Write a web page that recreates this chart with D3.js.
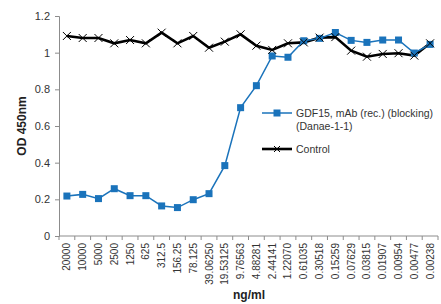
<!DOCTYPE html>
<html>
<head>
<meta charset="utf-8">
<script src="https://cdn.jsdelivr.net/npm/d3@7"></script>
<style>
body { margin: 0; background: #fff; }
</style>
</head>
<body>
<div id="chart"></div>
<script>
// Data
const concentrations = ["20000", "10000", "5000", "2500", "1250", "625", "312.5", "156.25", "78.125",
  "39.06250", "19.53125", "9.76563", "4.88281", "2.44141", "1.22070", "0.61035", "0.30518",
  "0.15259", "0.07629", "0.03815", "0.01907", "0.00954", "0.00477", "0.00238"];
const gdf15 = [0.218, 0.227, 0.204, 0.258, 0.22, 0.22, 0.164, 0.155, 0.198, 0.231, 0.384, 0.70,
  0.82, 0.982, 0.975, 1.065, 1.078, 1.11, 1.067, 1.056, 1.069, 1.069, 0.998, 1.045];
const control = [1.091, 1.08, 1.08, 1.051, 1.069, 1.051, 1.109, 1.051, 1.091, 1.027, 1.06, 1.10,
  1.038, 1.015, 1.051, 1.056, 1.082, 1.085, 1.011, 0.978, 0.993, 0.997, 0.984, 1.051];
const yTicks = [0, 0.2, 0.4, 0.6, 0.8, 1, 1.2];

const width = 441, height = 304;
const margin = {top: 16, right: 3, bottom: 68, left: 59};

const svg = d3.select("#chart")
  .append("svg")
  .attr("width", width)
  .attr("height", height)
  .style("font-family", "'Liberation Sans', Arial, sans-serif");

const x = d3.scalePoint()
  .domain(concentrations)
  .range([margin.left, width - margin.right])
  .padding(0.5);

const y = d3.scaleLinear()
  .domain([0, 1.2])
  .range([height - margin.bottom, margin.top]);

const axisColor = "#8c8c8c";

// Y axis
const yAxis = svg.append("g")
  .attr("transform", `translate(${margin.left},0)`)
  .call(d3.axisLeft(y).tickValues(yTicks).tickSize(4).tickPadding(5).tickFormat(d => d));
yAxis.select(".domain").attr("stroke", axisColor);
yAxis.selectAll(".tick line").attr("stroke", axisColor);
yAxis.selectAll("text").attr("fill", "#333").style("font-size", "11px");

// X axis - ticks between categories
const step = x.step();
const xAxis = svg.append("g")
  .attr("transform", `translate(0,${height - margin.bottom})`);
xAxis.append("line")
  .attr("x1", margin.left).attr("x2", width - margin.right)
  .attr("stroke", axisColor);
xAxis.selectAll(".tk")
  .data(d3.range(concentrations.length + 1))
  .enter()
  .append("line")
  .attr("x1", i => margin.left + i * step)
  .attr("x2", i => margin.left + i * step)
  .attr("y1", 0).attr("y2", 4)
  .attr("stroke", axisColor);
xAxis.selectAll(".lbl")
  .data(concentrations)
  .enter()
  .append("text")
  .attr("transform", d => `translate(${x(d) + 3.5},7) rotate(-90)`)
  .attr("text-anchor", "end")
  .attr("fill", "#333")
  .style("font-size", "10px")
  .text(d => d);

// Axis titles
svg.append("text")
  .attr("transform", `translate(26,${y(0.6)}) rotate(-90)`)
  .attr("text-anchor", "middle")
  .style("font-size", "12px")
  .style("font-weight", "bold")
  .attr("fill", "#222")
  .text("OD 450nm");

svg.append("text")
  .attr("x", 249)
  .attr("y", 299)
  .attr("text-anchor", "middle")
  .style("font-size", "12px")
  .style("font-weight", "bold")
  .attr("fill", "#222")
  .text("ng/ml");

const line = d3.line()
  .x((d, i) => x(concentrations[i]))
  .y(d => y(d));

const blue = "#1a73bb";

// Control line
svg.append("path")
  .datum(control)
  .attr("fill", "none")
  .attr("stroke", "#000")
  .attr("stroke-width", 2.6)
  .attr("d", line);

// GDF15 line
svg.append("path")
  .datum(gdf15)
  .attr("fill", "none")
  .attr("stroke", blue)
  .attr("stroke-width", 1.5)
  .attr("d", line);

svg.selectAll(".sq")
  .data(gdf15)
  .enter()
  .append("rect")
  .attr("x", (d, i) => x(concentrations[i]) - 3.5)
  .attr("y", d => y(d) - 3.5)
  .attr("width", 7)
  .attr("height", 7)
  .attr("fill", blue);

const xMark = "M-4,-4L4,4M-4,4L4,-4";
svg.selectAll(".xm")
  .data(control)
  .enter()
  .append("path")
  .attr("transform", (d, i) => `translate(${x(concentrations[i])},${y(d)})`)
  .attr("d", xMark)
  .attr("stroke", "#000")
  .attr("stroke-width", 1)
  .attr("fill", "none");

// Legend
const legend = svg.append("g");
legend.append("line")
  .attr("x1", 262).attr("x2", 292).attr("y1", 113).attr("y2", 113)
  .attr("stroke", blue).attr("stroke-width", 1.5);
legend.append("rect")
  .attr("x", 273.5).attr("y", 109.5).attr("width", 7).attr("height", 7)
  .attr("fill", blue);
legend.append("text")
  .attr("x", 296).attr("y", 117)
  .style("font-size", "10.5px").attr("fill", "#333")
  .text("GDF15, mAb (rec.) (blocking)");
legend.append("text")
  .attr("x", 296).attr("y", 130)
  .style("font-size", "10.5px").attr("fill", "#333")
  .text("(Danae-1-1)");

legend.append("line")
  .attr("x1", 262).attr("x2", 292).attr("y1", 149).attr("y2", 149)
  .attr("stroke", "#000").attr("stroke-width", 2.6);
legend.append("path")
  .attr("transform", "translate(277,149)")
  .attr("d", "M-3,-3L3,3M-3,3L3,-3")
  .attr("stroke", "#000").attr("stroke-width", 1);
legend.append("text")
  .attr("x", 296).attr("y", 153)
  .style("font-size", "10.5px").attr("fill", "#333")
  .text("Control");
</script>
</body>
</html>
